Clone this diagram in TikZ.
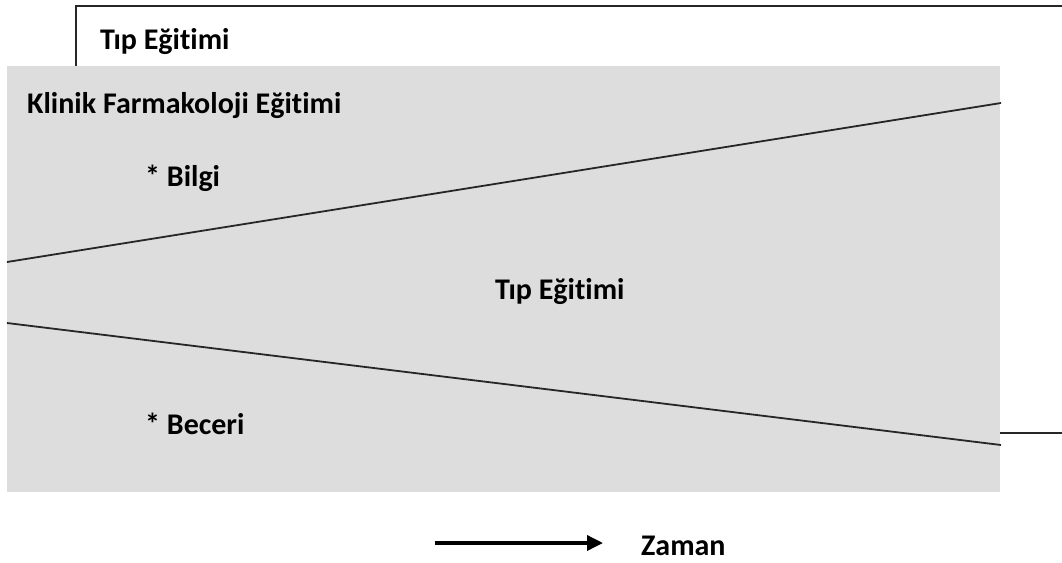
\documentclass[tikz,border=0pt]{standalone}
\usepackage{fontspec}
\setmainfont{Carlito}[Ligatures=NoCommon]
\usepackage{xcolor}
\usetikzlibrary{arrows.meta, positioning, calc}
\definecolor{panel}{HTML}{DDDDDD}

\begin{document}
\begin{tikzpicture}[x=1pt, y=-1pt,
    lbl/.style={font=\fontsize{30}{34}\selectfont\bfseries, inner sep=0pt, anchor=base west}]
    \useasboundingbox (0,0) rectangle (1062,562);
    \clip (0,0) rectangle (1062,562);

    % Outer frame: medical education
    \draw[black!85, line width=1.5pt] (76,6) rectangle (1080,433);
    \node[lbl] (tip) at (100,49) {Tıp Eğitimi};

    % Grey panel: clinical pharmacology
    \fill[panel] (7,66) rectangle (1000,492);
    \node[lbl] (klinik) at (27,113) {Klinik Farmakoloji Eğitimi};

    % Wedge lines
    \coordinate (ua) at (7,262);
    \coordinate (ub) at (1001,103);
    \coordinate (la) at (7,323);
    \coordinate (lb) at (1001,445);
    \draw[black!85, line width=1.8pt] (ua) -- (ub);
    \draw[black!85, line width=1.8pt] (la) -- (lb);

    \node[lbl] (bilgi) at (145,186) {* Bilgi};
    \node[lbl] (tipmid) at (495,299) {Tıp Eğitimi};
    \node[lbl] (beceri) at (145,434) {* Beceri};

    % Time arrow
    \node[lbl] (zaman) at (641,555) {Zaman};
    \coordinate (tstart) at (435,543);
    \draw[line width=3.5pt, -{Triangle[length=16pt, width=15pt]}] (tstart) -- ([xshift=-38pt]zaman.west |- tstart);
\end{tikzpicture}
\end{document}
